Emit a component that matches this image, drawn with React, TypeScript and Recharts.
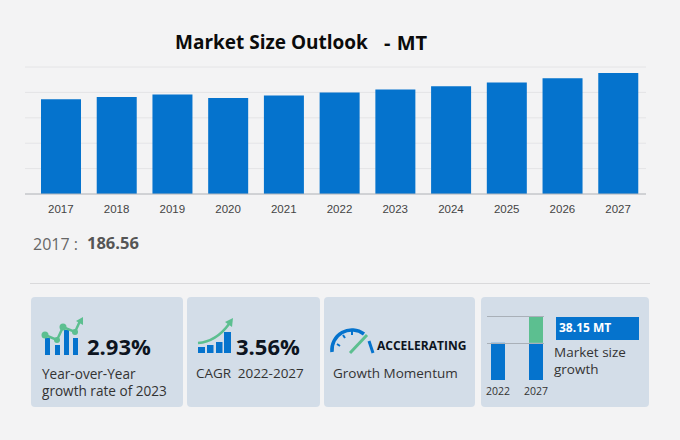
import React from "react";
import { BarChart, Bar, XAxis, YAxis, CartesianGrid } from "recharts";

const years = ["2017","2018","2019","2020","2021","2022","2023","2024","2025","2026","2027"];
const sizes = [186.56,191,195.8,189,193.8,199.7,205.6,212,219.3,227.7,238];
const yTicks = [0,50,100,150,200,250];
const miniYears = ["2022","2027"];
const miniBase = [100,100];
const miniGrowth = [0,72];

const mainData = years.map((y,i)=>({year:y,size:sizes[i]}));
const miniData = miniYears.map((y,i)=>({year:y,base:miniBase[i],growth:miniGrowth[i]}));

const FONT = "'Open Sans', 'Noto Sans', sans-serif";
const BLUE = "#0573cd";
const GREEN = "#5cbf90";

function T({x,y,size,color="#333",weight=400,children,font=FONT,ws=0,lh=1}:any){
  return <div style={{position:"absolute",left:x,top:y,fontSize:size,color,fontWeight:weight,fontFamily:font,whiteSpace:"pre",lineHeight:lh,wordSpacing:ws}}>{children}</div>;
}
function Card({x,w}:any){
  return <div style={{position:"absolute",left:x,top:297,width:w,height:110,background:"#d3dde8",borderRadius:4}}/>;
}

function Icon1(){
  return <svg style={{position:"absolute",left:40,top:316}} width={46} height={42} viewBox="0 0 46 42">
    <rect x="5" y="22" width="5" height="17" fill={BLUE}/>
    <rect x="15" y="29" width="5" height="10" fill={BLUE}/>
    <rect x="24" y="14" width="5" height="25" fill={BLUE}/>
    <rect x="33" y="22" width="5" height="17" fill={BLUE}/>
    <polyline points="5,19 17,24 23,11 35,16 40,5" fill="none" stroke={GREEN} strokeWidth="2.5"/>
    <circle cx="5" cy="19" r="3.5" fill={GREEN}/><circle cx="17" cy="24" r="3" fill={GREEN}/>
    <circle cx="23" cy="11" r="3.5" fill={GREEN}/><circle cx="35" cy="16" r="3" fill={GREEN}/>
    <polygon points="36,5 43,1 43,9" fill={GREEN}/>
  </svg>;
}
function Icon2(){
  return <svg style={{position:"absolute",left:196,top:318}} width={38} height={38} viewBox="0 0 38 38">
    <rect x="2" y="29" width="7" height="6" fill={BLUE}/>
    <rect x="11" y="27" width="6.5" height="8" fill={BLUE}/>
    <rect x="20" y="24" width="6.5" height="11" fill={BLUE}/>
    <rect x="28" y="14" width="7" height="21" fill={BLUE}/>
    <path d="M2 25 C15 24 25 17 33 6" fill="none" stroke={GREEN} strokeWidth="2.5"/>
    <polygon points="29,4 37,0 36,9" fill={GREEN}/>
  </svg>;
}
function Icon3(){
  return <svg style={{position:"absolute",left:328,top:326}} width={48} height={32} viewBox="0 0 48 32">
    <path d="M4 26 A20 20 0 0 1 36 8" fill="none" stroke={BLUE} strokeWidth="3.5"/>
    <path d="M41 15 L45 27" fill="none" stroke={BLUE} strokeWidth="3"/>
    <path d="M9 18 L12 20 M15 9 L17 12 M24 5 L24 9" stroke={BLUE} strokeWidth="2"/>
    <path d="M22 27 L39 9" stroke={GREEN} strokeWidth="3"/>
  </svg>;
}

export default function App(){
  return (
    <div style={{position:"absolute",left:0,top:0,width:680,height:440,background:"#f3f3f4",overflow:"hidden"}}>
      <T x={175} y={33} size={19} color="#0b0b0b" weight={700}>Market Size Outlook</T>
      <T x={384} y={33} size={20} color="#0b0b0b" weight={700} ws={1}>- MT</T>

      <div style={{position:"absolute",left:0,top:57}}>
        <BarChart width={680} height={170} data={mainData} margin={{top:10,right:34,bottom:0,left:25}} barSize={40}>
          <CartesianGrid vertical={false} stroke="#e4e4e6" strokeWidth={1}/>
          <XAxis dataKey="year" padding={{left:8,right:0}} axisLine={{stroke:"#b5b8bc"}} tickLine={false}
            tick={{fontSize:11.5,fill:"#444",fontFamily:"'Liberation Sans', Arial, sans-serif"}} tickMargin={5} interval={0} height={33}/>
          <YAxis hide domain={[0,250]} ticks={yTicks}/>
          <Bar dataKey="size" fill={BLUE} isAnimationActive={false}/>
        </BarChart>
      </div>

      <T x={33} y={236} size={16} color="#666">2017 :</T>
      <T x={87} y={235} size={16.5} color="#555" weight={700}>186.56</T>

      <div style={{position:"absolute",left:30,top:283,width:620,height:1,background:"#d9d9db"}}/>

      <Card x={31} w={152}/><Card x={187} w={133}/><Card x={324} w={151}/><Card x={481} w={168}/>

      <Icon1/>
      <T x={87} y={335} size={22} color="#0d1420" weight={700}>2.93%</T>
      <T x={42} y={365} size={13.6} color="#333" lh="17px">{"Year-over-Year\ngrowth rate of 2023"}</T>

      <Icon2/>
      <T x={236} y={335} size={22} color="#0d1420" weight={700}>3.56%</T>
      <T x={196} y={367} size={13.5} color="#333" ws={3}>CAGR 2022-2027</T>

      <Icon3/>
      <T x={377} y={340} size={12} color="#0d1420" weight={700}>ACCELERATING</T>
      <T x={333} y={367} size={13.5} color="#333">Growth Momentum</T>

      <div style={{position:"absolute",left:479,top:310}}>
        <BarChart width={76} height={87} data={miniData} margin={{top:6,right:0,bottom:0,left:0}} barSize={14}>
          <XAxis dataKey="year" axisLine={false} tickLine={false} interval={0} height={17}
            tick={{fontSize:10.5,fill:"#333",fontFamily:FONT}} tickMargin={2}/>
          <YAxis hide domain={[0,172]}/>
          <Bar dataKey="base" stackId="a" fill={BLUE} isAnimationActive={false}/>
          <Bar dataKey="growth" stackId="a" fill={GREEN} isAnimationActive={false}/>
        </BarChart>
      </div>
      <div style={{position:"absolute",left:487,top:316,width:57,height:1,background:"#a9b0b8"}}/>
      <div style={{position:"absolute",left:487,top:343,width:57,height:1,background:"#a9b0b8"}}/>

      <div style={{position:"absolute",left:556,top:317,width:83,height:23,background:BLUE}}/>
      <T x={559} y={322} size={12} color="#fff" weight={700}>38.15 MT</T>
      <T x={554} y={344} size={13.5} color="#333" lh="17px">{"Market size\ngrowth"}</T>
    </div>
  );
}
